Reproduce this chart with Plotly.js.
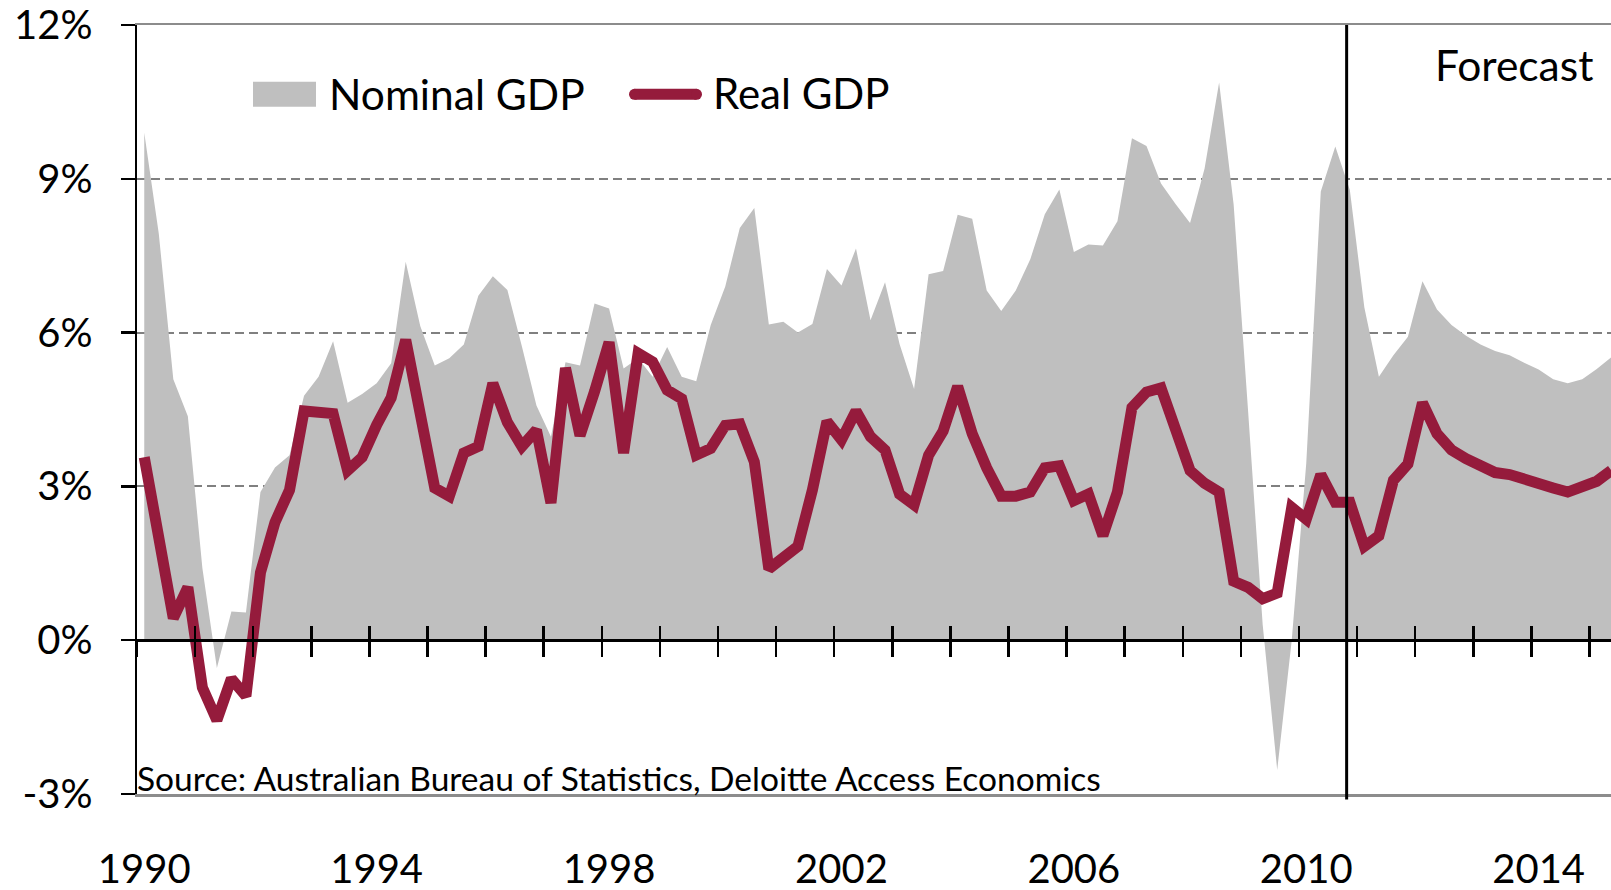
<!DOCTYPE html>
<html>
<head>
<meta charset="utf-8">
<script src="https://cdn.plot.ly/plotly-3.0.1.min.js"></script>
<style>
  html, body { margin: 0; padding: 0; background: #ffffff; }
  #chart { width: 1611px; height: 890px; }
</style>
</head>
<body>
<div id="chart"></div>
<script>
// ---------- data (quarterly, year-ended growth, %) ----------
const years = [1990,1991,1992,1993,1994,1995,1996,1997,1998,1999,2000,2001,2002,
               2003,2004,2005,2006,2007,2008,2009,2010,2011,2012,2013,2014,2015];
const quarterNames = ['Q1','Q2','Q3','Q4'];
const quarters = [];
years.forEach(y => quarterNames.forEach(q => quarters.push(y + q)));

const nominalGDP = [
  9.9, 7.93, 5.09, 4.37, 1.41, -0.54, 0.56, 0.54, 2.89, 3.37,
  3.61, 4.77, 5.14, 5.83, 4.63, 4.80, 5.01, 5.4, 7.38, 6.13,
  5.36, 5.5, 5.77, 6.72, 7.1, 6.83, 5.73, 4.58, 3.97, 5.42,
  5.36, 6.57, 6.47, 5.3, 5.5, 5.14, 5.72, 5.14, 5.05, 6.15,
  6.9, 8.04, 8.43, 6.16, 6.21, 6.0, 6.17, 7.24, 6.92, 7.64,
  6.24, 6.98, 5.78, 4.9, 7.14, 7.2, 8.3, 8.22, 6.82, 6.42,
  6.82, 7.43, 8.31, 8.79, 7.57, 7.72, 7.70, 8.17, 9.79, 9.64,
  8.91, 8.51, 8.14, 9.2, 10.88, 8.5, 4.45, 0.3, -2.53, 0.0,
  3.45, 8.75, 9.63, 8.78, 6.49, 5.14, 5.56, 5.92, 7.0, 6.45,
  6.15, 5.94, 5.77, 5.64, 5.56, 5.41, 5.28, 5.09, 5.01, 5.09,
  5.29, 5.52
];
const realGDP = [
  3.57, 1.95, 0.43, 1.03, -0.92, -1.56, -0.75, -1.09, 1.32, 2.30,
  2.93, 4.47, 4.47, 4.42, 3.31, 3.57, 4.2, 4.73, 5.86, 4.4,
  2.97, 2.81, 3.65, 3.78, 5.01, 4.25, 3.78, 4.10, 2.68, 5.31,
  3.99, 4.85, 5.81, 3.65, 5.60, 5.43, 4.88, 4.71, 3.61, 3.74,
  4.19, 4.22, 3.48, 1.39, 1.60, 1.83, 2.93, 4.27, 3.91, 4.47,
  3.97, 3.71, 2.85, 2.64, 3.61, 4.08, 4.95, 4.03, 3.36, 2.81,
  2.81, 2.89, 3.36, 3.40, 2.72, 2.85, 2.04, 2.89, 4.54, 4.84,
  4.92, 4.08, 3.31, 3.06, 2.89, 1.15, 1.03, 0.81, 0.92, 2.59,
  2.36, 3.23, 2.69, 2.69, 1.83, 2.04, 3.12, 3.44, 4.63, 4.03,
  3.71, 3.54, 3.40, 3.27, 3.23, 3.13, 3.03, 2.97, 2.89, 3.02,
  3.10, 3.31
];
const yearLabels = ['1990','1994','1998','2002','2006','2010','2014'];
const yTickVals = [-3, 0, 3, 6, 9, 12];
const yTickText = ['-3%', '0%', '3%', '6%', '9%', '12%'];
const forecastAfter = '2010Q3';

// ---------- helpers ----------
const n = nominalGDP.length;
const xIdx = quarters.slice(0, n).map((q, i) => i);
const labelPos = yearLabels.map(y => quarters.indexOf(y + 'Q1'));
const yearBounds = quarters.map((q, i) => i).filter(i => quarters[i].endsWith('Q1')).map(i => i - 0.5);

const W = 1611, H = 890;
const M = {l: 137, r: 0, t: 25, b: 96};
const PW = W - M.l - M.r, PH = H - M.t - M.b;
const qW = 14.525;
const xRange = [-0.5, -0.5 + PW / qW];
const px = x => (x - M.l) / PW;
const py = y => (H - M.b - y) / PH;

const FONT = 'Lato, "Open Sans", sans-serif';
const GRAY = '#BFBFBF';
const RED = '#951B3C';

const traces = [
  {
    x: xIdx, y: nominalGDP, type: 'scatter', mode: 'lines',
    name: 'Nominal GDP', fill: 'tozeroy', fillcolor: GRAY,
    line: {width: 0, color: GRAY}, xaxis: 'x', yaxis: 'y',
    showlegend: false, hoverinfo: 'skip'
  },
  {
    x: xIdx, y: realGDP, type: 'scatter', mode: 'lines',
    name: 'Real GDP', line: {width: 11, color: RED},
    xaxis: 'x2', yaxis: 'y', showlegend: false, hoverinfo: 'skip'
  },
  {
    x: [], y: [], type: 'scatter', mode: 'lines', xaxis: 'x3', yaxis: 'y',
    showlegend: false, hoverinfo: 'skip'
  }
];

const zeroPos = (0 - (-3)) / (12 - (-3));

// legend swatch for the line: straight body + round caps
const legLineX0 = 634.5, legLineX1 = 696.5, legLineY = 94.3, legR = 5.5;
const capShape = cx => ({
  type: 'circle', xref: 'paper', yref: 'paper',
  xsizemode: 'pixel', ysizemode: 'pixel',
  xanchor: px(cx), yanchor: py(legLineY),
  x0: -legR, x1: legR, y0: -legR, y1: legR,
  fillcolor: RED, line: {width: 0}, layer: 'above'
});

const layout = {
  width: W, height: H,
  margin: M,
  paper_bgcolor: '#ffffff', plot_bgcolor: '#ffffff',
  font: {family: FONT, color: '#000000', size: 40},
  showlegend: false,
  xaxis: {
    range: xRange, tickmode: 'array', tickvals: labelPos, ticktext: yearLabels,
    ticks: '', showgrid: false, zeroline: false,
    showline: true, mirror: true, linecolor: '#8C8C8C', linewidth: 2.5,
    tickfont: {family: FONT, size: 40, color: '#000'},
    ticklabelstandoff: 38, fixedrange: true
  },
  xaxis2: {
    overlaying: 'x', anchor: 'free', position: zeroPos,
    range: xRange, tickmode: 'array', tickvals: yearBounds,
    ticks: 'outside', ticklen: 15, tickwidth: 2.5, tickcolor: '#000',
    showticklabels: false, showgrid: false, zeroline: false,
    showline: true, linecolor: '#000', linewidth: 2.5, fixedrange: true
  },
  xaxis3: {
    overlaying: 'x', anchor: 'free', position: zeroPos,
    range: xRange, tickmode: 'array', tickvals: yearBounds,
    ticks: 'inside', ticklen: 14, tickwidth: 2.5, tickcolor: '#000',
    showticklabels: false, showgrid: false, zeroline: false,
    showline: false, fixedrange: true
  },
  yaxis: {
    range: [-3, 12], tickmode: 'array', tickvals: yTickVals, ticktext: yTickText,
    showgrid: true, gridcolor: '#808080', gridwidth: 2, griddash: '9px,5px',
    zeroline: false, showline: true, linecolor: '#000', linewidth: 2.5,
    ticks: 'outside', ticklen: 14, tickwidth: 2.5, tickcolor: '#000',
    tickfont: {family: FONT, size: 40, color: '#000'},
    ticklabelstandoff: 20, fixedrange: true
  },
  shapes: [
    {
      type: 'line', xref: 'x', yref: 'paper',
      x0: quarters.indexOf(forecastAfter) + 0.78, x1: quarters.indexOf(forecastAfter) + 0.78,
      y0: -0.007, y1: 1, line: {color: '#000', width: 3}, layer: 'above'
    },
    {
      type: 'rect', xref: 'paper', yref: 'paper',
      x0: px(253), x1: px(316), y0: py(106.7), y1: py(81.7),
      fillcolor: GRAY, line: {width: 0}, layer: 'above'
    },
    {
      type: 'line', xref: 'paper', yref: 'paper',
      x0: px(legLineX0), x1: px(legLineX1), y0: py(legLineY), y1: py(legLineY),
      line: {color: RED, width: 2 * legR}, layer: 'above'
    },
    capShape(legLineX0),
    capShape(legLineX1)
  ],
  annotations: [
    {text: 'Nominal GDP', xref: 'paper', yref: 'paper', x: px(327), y: py(93),
     xanchor: 'left', yanchor: 'middle', showarrow: false,
     font: {family: FONT, size: 42.5, color: '#000'}},
    {text: 'Real GDP', xref: 'paper', yref: 'paper', x: px(711), y: py(93),
     xanchor: 'left', yanchor: 'middle', showarrow: false,
     font: {family: FONT, size: 42, color: '#000'}},
    {text: 'Forecast', xref: 'paper', yref: 'paper', x: px(1433), y: py(64),
     xanchor: 'left', yanchor: 'middle', showarrow: false,
     font: {family: FONT, size: 42.5, color: '#000'}},
    {text: 'Source: Australian Bureau of Statistics, Deloitte Access Economics',
     xref: 'paper', yref: 'paper', x: px(135), y: py(778),
     xanchor: 'left', yanchor: 'middle', showarrow: false,
     font: {family: FONT, size: 33.5, color: '#000'}}
  ]
};

Plotly.newPlot('chart', traces, layout, {staticPlot: true, displayModeBar: false});
</script>
</body>
</html>
